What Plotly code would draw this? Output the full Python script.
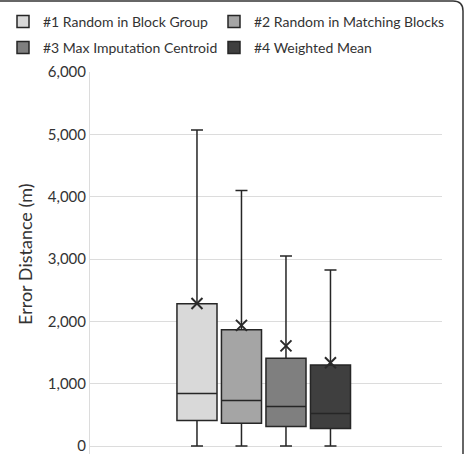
import plotly.graph_objects as go

names = ["#1 Random in Block Group", "#2 Random in Matching Blocks",
         "#3 Max Imputation Centroid", "#4 Weighted Mean"]
lower = [0, 0, 0, 0]
q1 = [410, 367, 314, 282]
median = [841, 729, 633, 521]
q3 = [2282, 1867, 1409, 1298]
upper = [5070, 4100, 3048, 2824]
mean = [2285, 1936, 1607, 1335]
yticks = [0, 1000, 2000, 3000, 4000, 5000, 6000]

fills = ["#d9d9d9", "#a5a5a5", "#7f7f7f", "#3f3f3f"]

W, H = 465, 454
L, R, T, B = 90, 23, 72, 0

# legend anchor pixels (left, top) for each entry
leg_pos = [(3, 6), (214, 6), (3, 32), (214, 32)]
leg_ids = ["legend", "legend2", "legend3", "legend4"]

fig = go.Figure()
for i, n in enumerate(names):
    fig.add_trace(go.Box(
        name=n, x=[i], q1=[q1[i]], median=[median[i]], q3=[q3[i]],
        lowerfence=[lower[i]], upperfence=[upper[i]],
        width=0.9, whiskerwidth=0.3,
        fillcolor=fills[i], line=dict(color="#262626", width=1.5),
        showlegend=True, legend=leg_ids[i],
    ))
    fig.add_trace(go.Scatter(
        x=[i], y=[mean[i]], mode="markers", showlegend=False,
        marker=dict(symbol="x-thin", size=11, line=dict(color="#2a2a2a", width=2)),
        hoverinfo="skip",
    ))

legends = {}
for lid, (lx, ly) in zip(leg_ids, leg_pos):
    legends[lid] = dict(xref="container", yref="container",
                        x=lx / W, y=1 - ly / H, xanchor="left", yanchor="top",
                        bgcolor="rgba(0,0,0,0)",
                        font=dict(size=14, color="#333333"))

pw = W - L - R
ph = H - T - B
def px(x):
    return (x - L) / pw
def py(y):
    return (H - B - y) / ph

fig.update_layout(
    width=W, height=H,
    margin=dict(l=L, r=R, t=T, b=B, autoexpand=False),
    paper_bgcolor="white", plot_bgcolor="white",
    font=dict(family="Lato, Open Sans, sans-serif", color="#333333", size=14),
    showlegend=True,
    xaxis=dict(range=[-2.404, 5.506], showticklabels=False, showgrid=False,
               zeroline=False, showline=False, ticks=""),
    yaxis=dict(range=[-128, 6000], tickvals=yticks, tickformat=",",
               showgrid=True, gridcolor="#dcdcdc", gridwidth=1,
               zeroline=False, showline=True, linecolor="#dcdcdc",
               ticklabeloverflow="allow",
               tickfont=dict(size=15, color="#333333")),
    annotations=[dict(text="Error Distance (m)", xref="paper", yref="paper",
                      x=px(25), y=py(255), textangle=-90, showarrow=False,
                      xanchor="center", yanchor="middle",
                      font=dict(size=18, color="#333333"))],
    **legends,
)

fig.add_shape(type="line", xref="paper", yref="paper",
              x0=px(-5), x1=px(453), y0=py(1), y1=py(1),
              line=dict(color="#333333", width=1.5), layer="above")
fig.add_shape(type="line", xref="paper", yref="paper",
              x0=px(463), x1=px(463), y0=py(11), y1=py(470),
              line=dict(color="#333333", width=1.5), layer="above")
fig.add_shape(type="path", xref="paper", yref="paper",
              path=f"M {px(453)},{py(1)} Q {px(463)},{py(1)} {px(463)},{py(11)}",
              line=dict(color="#333333", width=1.5), layer="above")

fig.write_html("out.html")
